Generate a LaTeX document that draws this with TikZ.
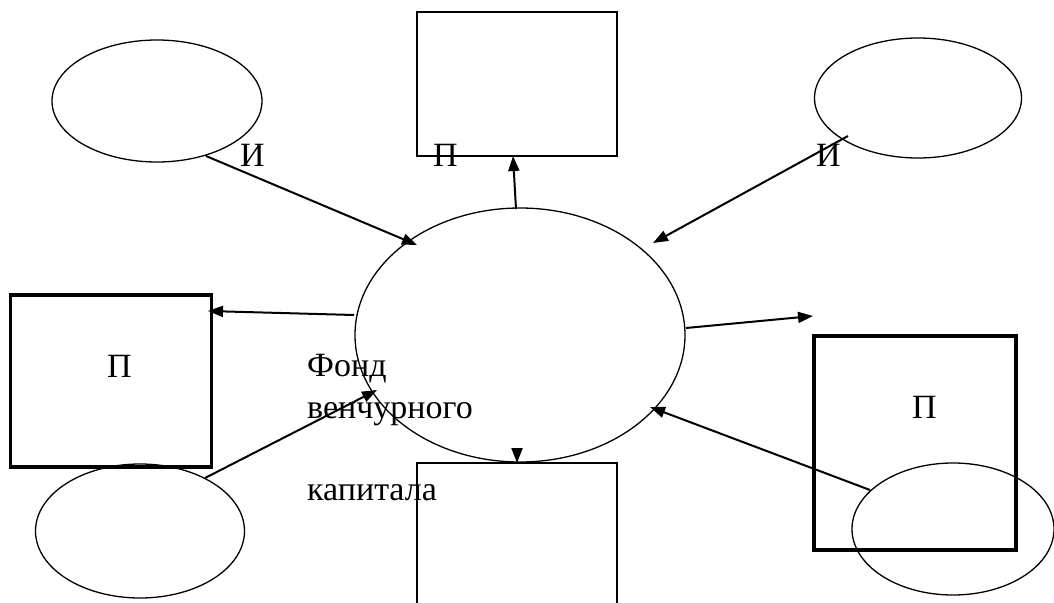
\documentclass[tikz,border=0pt]{standalone}
\usepackage{fontspec}
\setmainfont{Liberation Serif}
\usetikzlibrary{arrows.meta,shapes.geometric}
\begin{document}
\begin{tikzpicture}[x=1pt,y=-1pt,
  oval/.style={draw,ellipse,line width=1.3pt,inner sep=0pt},
  thinbox/.style={draw,line width=1.8pt,inner sep=0pt},
  thickbox/.style={draw,line width=3.3pt,inner sep=0pt},
  conn/.style={line width=2pt,-{Triangle[length=15pt,width=11pt]}},
  lbl/.style={inner sep=0pt,anchor=base west,font=\fontsize{34}{40}\selectfont}]
\useasboundingbox (0,0) rectangle (1054,602);
% boxes
\node[thinbox,minimum width=200pt,minimum height=144pt] (topbox) at (517,84) {};
\node[thickbox,minimum width=201pt,minimum height=172pt] (leftbox) at (111,381) {};
\node[thickbox,minimum width=202pt,minimum height=214pt] (rightbox) at (915,443) {};
\begin{scope}
\clip (0,0) rectangle (1054,602);
\draw[line width=1.8pt] (417,620) |- (617,463) -- (617,620);
\end{scope}
\coordinate (botbox) at (517,463);
% ovals
\node[oval,minimum width=210pt,minimum height=122pt] (tl) at (157,101) {};
\node[oval,minimum width=207pt,minimum height=120pt] (tr) at (918,98) {};
\node[oval,minimum width=330pt,minimum height=254pt] (fund) at (520,335) {};
\node[oval,minimum width=209pt,minimum height=134pt] (bl) at (140,531) {};
\node[oval,minimum width=202pt,minimum height=132pt] (br) at (953,529) {};
% connector end points
\coordinate (a1s) at (206,156);
\coordinate (a1e) at (417,245);
\coordinate (a2s) at (516,209);
\coordinate (a2e) at (513,156);
\coordinate (a3s) at (848,136);
\coordinate (a3e) at (653,243);
\coordinate (a4s) at (354,315);
\coordinate (a4e) at (208,311);
\coordinate (a5s) at (205,478);
\coordinate (a5e) at (377,390);
\coordinate (a6s) at (686,328);
\coordinate (a6e) at (813,316);
\coordinate (a7s) at (870,490);
\coordinate (a7e) at (650,407);
\coordinate (a8s) at (517,452);
% connectors
\draw[conn] (a1s) -- (a1e);
\draw[conn] (a2s) -- (a2e);
\draw[conn] (a3s) -- (a3e);
\draw[conn] (a4s) -- (a4e);
\draw[conn] (a5s) -- (a5e);
\draw[conn] (a6s) -- (a6e);
\draw[conn] (a7s) -- (a7e);
\draw[conn] (a8s) -- (botbox);
% labels
\node[lbl] (l1) at (240,166) {И};
\node[lbl] (l2) at (433,166) {П};
\node[lbl] (l3) at (816,166) {И};
\node[lbl] (l4) at (107,377) {П};
\node[lbl] (l5) at (912,418) {П};
\node[lbl] (f1) at (307,376) {Фонд};
\node[lbl] (f2) at (307,418) {венчурного};
\node[lbl] (f3) at (307,500) {капитала};
\end{tikzpicture}
\end{document}
